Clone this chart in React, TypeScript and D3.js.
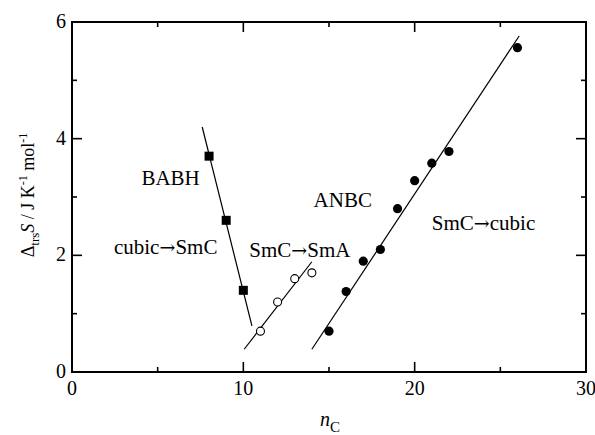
import React from "react";
import * as d3 from "d3";

const babhN = [8, 9, 10];
const babhS = [3.7, 2.6, 1.4];
const babhFit = [[7.6, 4.2], [10.5, 0.79]];

const smaN = [11, 12, 13, 14];
const smaS = [0.7, 1.2, 1.6, 1.7];
const smaFit = [[10.05, 0.39], [14.0, 1.89]];

const anbcN = [15, 16, 17, 18, 19, 20, 21, 22, 26];
const anbcS = [0.7, 1.38, 1.9, 2.1, 2.8, 3.28, 3.58, 3.78, 5.56];
const anbcFit = [[14.0, 0.39], [26.1, 5.76]];

const xMajor = [0, 10, 20, 30];
const xMinor = [5, 15, 25];
const yMajor = [0, 2, 4, 6];
const yMinor = [1, 3, 5];

const labels = [
  { a: "BABH", b: "", n: 4.05, s: 3.2 },
  { a: "cubic", b: "SmC", n: 2.45, s: 2.03 },
  { a: "SmC", b: "SmA", n: 10.35, s: 1.97 },
  { a: "ANBC", b: "", n: 14.1, s: 2.83 },
  { a: "SmC", b: "cubic", n: 21.0, s: 2.43 },
];

const W = 595, H = 435;
const L = 72, R = 586, T = 22, B = 372;
const FONT = "'Liberation Serif', 'Times New Roman', serif";

export default function App() {
  const x = d3.scaleLinear().domain([0, 30]).range([L, R]);
  const y = d3.scaleLinear().domain([0, 6]).range([B, T]);
  const line = d3.line<number[]>().x(d => x(d[0])).y(d => y(d[1]));
  const fsTick = 20;
  const fsLab = 21;
  return (
    <svg width={W} height={H} style={{ position: "absolute", left: 0, top: 0, background: "#fff" }}>
      <g style={{ fontFamily: FONT }}>
      <rect x={L} y={T} width={R - L} height={B - T} fill="none" stroke="#000" strokeWidth={2} />
      {xMajor.map(v => (
        <g key={"xM" + v}>
          <line x1={x(v)} x2={x(v)} y1={B} y2={B - 10} stroke="#000" strokeWidth={1.6} />
          <line x1={x(v)} x2={x(v)} y1={T} y2={T + 10} stroke="#000" strokeWidth={1.6} />
          <text x={x(v)} y={395} textAnchor="middle" fontSize={fsTick}>{v}</text>
        </g>
      ))}
      {xMinor.map(v => (
        <g key={"xm" + v}>
          <line x1={x(v)} x2={x(v)} y1={B} y2={B - 5} stroke="#000" strokeWidth={1.6} />
          <line x1={x(v)} x2={x(v)} y1={T} y2={T + 5} stroke="#000" strokeWidth={1.6} />
        </g>
      ))}
      {yMajor.map(v => (
        <g key={"yM" + v}>
          <line x1={L} x2={L + 10} y1={y(v)} y2={y(v)} stroke="#000" strokeWidth={1.6} />
          <line x1={R} x2={R - 10} y1={y(v)} y2={y(v)} stroke="#000" strokeWidth={1.6} />
          <text x={66} y={y(v) + 6} textAnchor="end" fontSize={fsTick}>{v}</text>
        </g>
      ))}
      {yMinor.map(v => (
        <g key={"ym" + v}>
          <line x1={L} x2={L + 5} y1={y(v)} y2={y(v)} stroke="#000" strokeWidth={1.6} />
          <line x1={R} x2={R - 5} y1={y(v)} y2={y(v)} stroke="#000" strokeWidth={1.6} />
        </g>
      ))}
      <path d={line(babhFit) || ""} stroke="#000" strokeWidth={1.2} fill="none" />
      <path d={line(smaFit) || ""} stroke="#000" strokeWidth={1.2} fill="none" />
      <path d={line(anbcFit) || ""} stroke="#000" strokeWidth={1.2} fill="none" />
      {babhN.map((n, i) => (
        <rect key={"b" + i} x={x(n) - 4.5} y={y(babhS[i]) - 4.5} width={9} height={9} fill="#000" />
      ))}
      {smaN.map((n, i) => (
        <circle key={"s" + i} cx={x(n)} cy={y(smaS[i])} r={4} fill="#fff" stroke="#000" strokeWidth={1.1} />
      ))}
      {anbcN.map((n, i) => (
        <circle key={"a" + i} cx={x(n)} cy={y(anbcS[i])} r={4.6} fill="#000" />
      ))}
      {labels.map(l => (
        <text key={l.a + l.b} x={x(l.n)} y={y(l.s)} fontSize={fsLab}>
          {l.a}
          {l.b ? <tspan style={{ fontFamily: "'DejaVu Serif', serif" }} fontSize={19}>{"\u2192"}</tspan> : null}
          {l.b}
        </text>
      ))}
      <text transform={`translate(34,${195}) rotate(-90)`} textAnchor="middle" fontSize={18}>
        <tspan>{"\u0394"}</tspan>
        <tspan fontSize={13} dy={5}>trs</tspan>
        <tspan fontStyle="italic" dy={-5}>S</tspan>
        <tspan> / J K</tspan>
        <tspan fontSize={12} dy={-7}>-1</tspan>
        <tspan dy={7}> mol</tspan>
        <tspan fontSize={12} dy={-7}>-1</tspan>
      </text>
      <text x={330} y={426} textAnchor="middle" fontSize={20}>
        <tspan fontStyle="italic">n</tspan>
        <tspan fontSize={15} dy={6}>C</tspan>
      </text>
      </g>
    </svg>
  );
}
